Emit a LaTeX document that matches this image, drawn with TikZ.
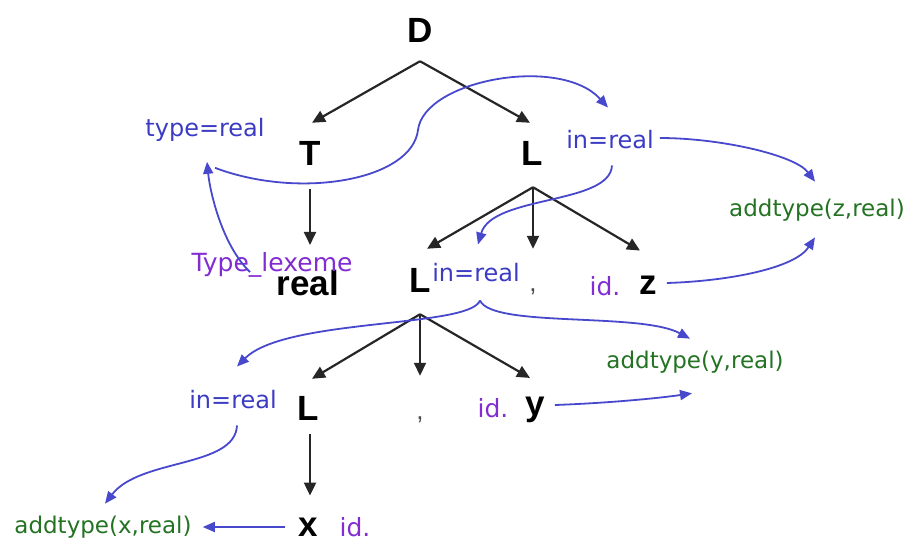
\documentclass[tikz,border=0pt]{standalone}
\usepackage{fontspec}
\setmainfont{Liberation Sans}
\newfontfamily\lblfont{DejaVu Sans}
\usetikzlibrary{arrows.meta,calc}
\definecolor{bluearr}{RGB}{72,72,205}
\definecolor{bluetxt}{RGB}{60,60,195}
\definecolor{purp}{RGB}{130,45,210}
\definecolor{grn}{RGB}{35,115,35}
\begin{document}
\begin{tikzpicture}[x=1pt,y=-1pt,
  sym/.style={font=\bfseries\fontsize{35}{35}\selectfont, inner sep=0pt, anchor=center},
  commanode/.style={font=\fontsize{26}{26}\selectfont, inner sep=0pt, anchor=center, text=black!70},
  attr/.style={font=\lblfont\fontsize{24}{24}\selectfont, inner sep=0pt, anchor=center, text=bluetxt},
  lex/.style={font=\lblfont\fontsize{25}{25}\selectfont, inner sep=0pt, anchor=center, text=purp},
  act/.style={font=\lblfont\fontsize{23}{23}\selectfont, inner sep=0pt, anchor=center, text=grn},
  tree/.style={draw=black!85, line width=2.2pt, -{Triangle[length=13pt,width=12pt]}},
  flow/.style={draw=bluearr, line width=1.8pt, -{Triangle[length=12pt,width=10pt]}}
]
\useasboundingbox (0,0) rectangle (909,549);

% tree symbols
\node[sym] (D) at (420,30) {D};
\node[sym] (T) at (310,153) {T};
\node[sym] (L1) at (532,153) {L};
\node[sym] (real) at (308,283) {real};
\node[sym] (L2) at (420,280) {L};
\node[commanode] (c1) at (533,292) {,};
\node[sym] (z) at (648,285) {z};
\node[sym] (L3) at (308,408) {L};
\node[commanode] (c2) at (420,420) {,};
\node[sym] (y) at (535,410) {y};
\node[sym] (x) at (308,527) {x};

% labels
\node[attr] (typereal) at (205,130) {type=real};
\node[attr] (inTop) at (610,140) {in=real};
\node[attr] (inMid) at (476,273) {in=real};
\node[attr] (inBot) at (233,400) {in=real};
\node[lex] (typelex) at (272,265) {Type\_lexeme};
\node[lex] (idz) at (605,286) {id.};
\node[lex] (idy) at (493,408) {id.};
\node[lex] (idx) at (355,527) {id.};
\node[act] (addz) at (817,210) {addtype(z,real)};
\node[act] (addy) at (695,362) {addtype(y,real)};
\node[act] (addx) at (103,527) {addtype(x,real)};

% tree edges
\draw[tree] ($(D.south)+(0,19)$) -- ($(T.north)+(2,-18)$);
\draw[tree] ($(D.south)+(0,19)$) -- ($(L1.north)+(-2,-18)$);
\draw[tree] ($(T.south)+(0,24)$) -- ($(real.north)+(2,-25)$);
\draw[tree] ($(L1.south)+(1,22)$) -- ($(L2.north)+(7,-19)$);
\draw[tree] ($(L1.south)+(1,22)$) -- ($(c1.north)+(0,-40)$);
\draw[tree] ($(L1.south)+(1,22)$) -- ($(z.north)+(-8,-25)$);
\draw[tree] ($(L2.south)+(0,22)$) -- ($(L3.north)+(4,-17)$);
\draw[tree] ($(L2.south)+(0,22)$) -- ($(c2.north)+(0,-41)$);
\draw[tree] ($(L2.south)+(0,22)$) -- ($(y.north)+(-5,-19)$);
\draw[tree] ($(L3.south)+(2,14)$) -- ($(x.north)+(2,-22)$);

% attribute flow
\draw[flow] ($(typelex.center)+(-22,7)$) .. controls ($(typelex.center)+(-50,-20)$) and ($(typereal.south)+(5,50)$) .. ($(typereal.south)+(2,20)$);
\draw[flow] ($(typereal.south)+(10,26)$) .. controls (300,200) and (412,180) .. (418,130)
   .. controls (424,80) and (560,55) .. ($(inTop.north)+(-2,-23)$);
\draw[flow] ($(inTop.east)+(6,-2)$) .. controls (720,138) and (795,155) .. ($(addz.north)+(-2,-17)$);
\draw[flow] ($(z.east)+(10,-2)$) .. controls (730,281) and (795,268) .. ($(addz.south)+(-2,16)$);
\draw[flow] ($(inTop.south)+(2,16)$) .. controls (610,205) and (492,195) .. ($(inMid.north)+(2,-19)$);
\draw[flow] ($(inMid.south)+(4,18)$) .. controls (470,328) and (285,318) .. ($(inBot.north)+(4,-24)$);
\draw[flow] ($(inMid.south)+(4,18)$) .. controls (492,328) and (640,312) .. ($(addy.north)+(-5,-12)$);
\draw[flow] ($(y.east)+(10,-5)$) .. controls (610,403) and (660,398) .. ($(addy.south)+(-3,20)$);
\draw[flow] ($(inBot.south)+(4,16)$) .. controls (235,468) and (140,458) .. ($(addx.north)+(2,-12)$);
\draw[flow] ($(x.west)+(-13,0)$) -- ($(addx.east)+(11,0)$);
\end{tikzpicture}
\end{document}
